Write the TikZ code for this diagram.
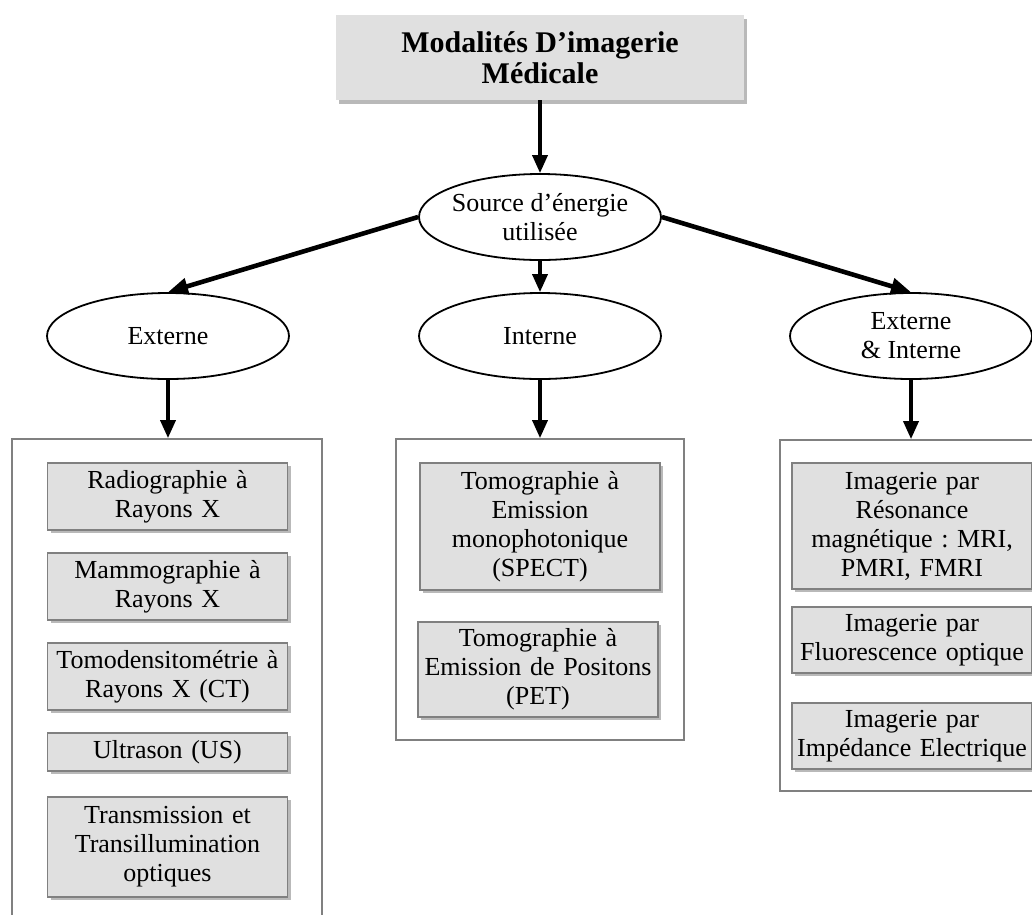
\documentclass[tikz,border=0pt]{standalone}
\usepackage{fontspec}
\setmainfont{Liberation Serif}
\usetikzlibrary{shapes.geometric,arrows.meta,shadows}

\definecolor{boxgray}{RGB}{224,224,224}
\definecolor{edgegray}{RGB}{128,128,128}
\definecolor{shadegray}{RGB}{185,185,185}
\newcommand{\bodyfont}{\fontsize{26}{29}\selectfont}
\newcommand{\headfont}{\fontsize{30}{31}\selectfont\bfseries}
\frenchspacing

\begin{document}
\begin{tikzpicture}[x=1pt,y=-1pt,
  headbox/.style={fill=boxgray, inner sep=0pt,
    general shadow={fill=shadegray, shadow xshift=3pt, shadow yshift=-4pt},
    minimum width=408pt, minimum height=85pt, align=center, font=\headfont},
  modbox/.style={draw=edgegray, line width=1.6pt, fill=boxgray, inner sep=0pt,
    general shadow={fill=shadegray, shadow xshift=3pt, shadow yshift=-3pt},
    minimum width=240pt, text width=236pt, align=center, font=\bodyfont},
  groupbox/.style={draw=edgegray, line width=1.8pt, inner sep=0pt},
  oval/.style={ellipse, draw, line width=1.8pt, inner xsep=-14pt, inner ysep=-8pt,
    minimum width=242pt, minimum height=86pt, align=center, font=\bodyfont},
  downarrow/.style={line width=3.6pt, -{Triangle[length=18pt,width=15pt]}},
  sidearrow/.style={line width=4.6pt, -{Triangle[length=20pt,width=16pt]}}
]
\useasboundingbox (0,0) rectangle (1032,914);
\clip (0,0) rectangle (1032,914);

% title
\node[headbox] (top) at (540,57.5) {Modalités D’imagerie\\Médicale};

% energy source and its three kinds
\node[oval] (src)  at (540,217) {Source d’énergie\\utilisée};
\node[oval] (ext)  at (168,336) {Externe};
\node[oval] (int)  at (540,336) {Interne};
\node[oval] (exin) at (911,336) {Externe\\\& Interne};

% group frames
\node[groupbox, minimum width=310pt, minimum height=510pt] (gl) at (167,694) {};
\node[groupbox, minimum width=288pt, minimum height=301pt] (gm) at (540,589.5) {};
\node[groupbox, minimum width=280pt, minimum height=351pt] (gr) at (920,615.5) {};

% external sources
\node[modbox, minimum height=67pt]  (radio) at (167.5,496.5) {Radiographie à\\Rayons X};
\node[modbox, minimum height=67pt]  (mammo) at (167.5,586.5) {Mammographie à\\Rayons X};
\node[modbox, minimum height=67pt]  (tomo)  at (167.5,676.5) {Tomodensitométrie à\\Rayons X (CT)};
\node[modbox, minimum height=38pt]  (us)    at (167.5,752)   {Ultrason (US)};
\node[modbox, minimum height=100pt] (trans) at (167.5,847)   {Transmission et\\Transillumination\\optiques};

% internal sources
\node[modbox, minimum height=127pt] (spect) at (540,526.5) {Tomographie à\\Emission\\monophotonique\\(SPECT)};
\node[modbox, minimum height=95pt]  (pet)   at (538,669.5) {Tomographie à\\Emission de Positons\\(PET)};

% external and internal sources
\node[modbox, minimum height=126pt] (mri)   at (912,526) {Imagerie par\\Résonance\\magnétique : MRI,\\PMRI, FMRI};
\node[modbox, minimum height=66pt]  (fluo)  at (912,640) {Imagerie par\\Fluorescence optique};
\node[modbox, minimum height=66pt]  (imp)   at (912,736) {Imagerie par\\Impédance Electrique};

% connectors
\draw[downarrow] (top.south) -- (src.north);
\draw[sidearrow] (src.west) -- (ext.north);
\draw[sidearrow] (src.east) -- (exin.north);
\draw[downarrow] (src.south) -- (int.north);
\draw[downarrow] (ext.south) -- (ext.south |- gl.north);
\draw[downarrow] (int.south) -- (int.south |- gm.north);
\draw[downarrow] (exin.south) -- (exin.south |- gr.north);
\end{tikzpicture}
\end{document}
